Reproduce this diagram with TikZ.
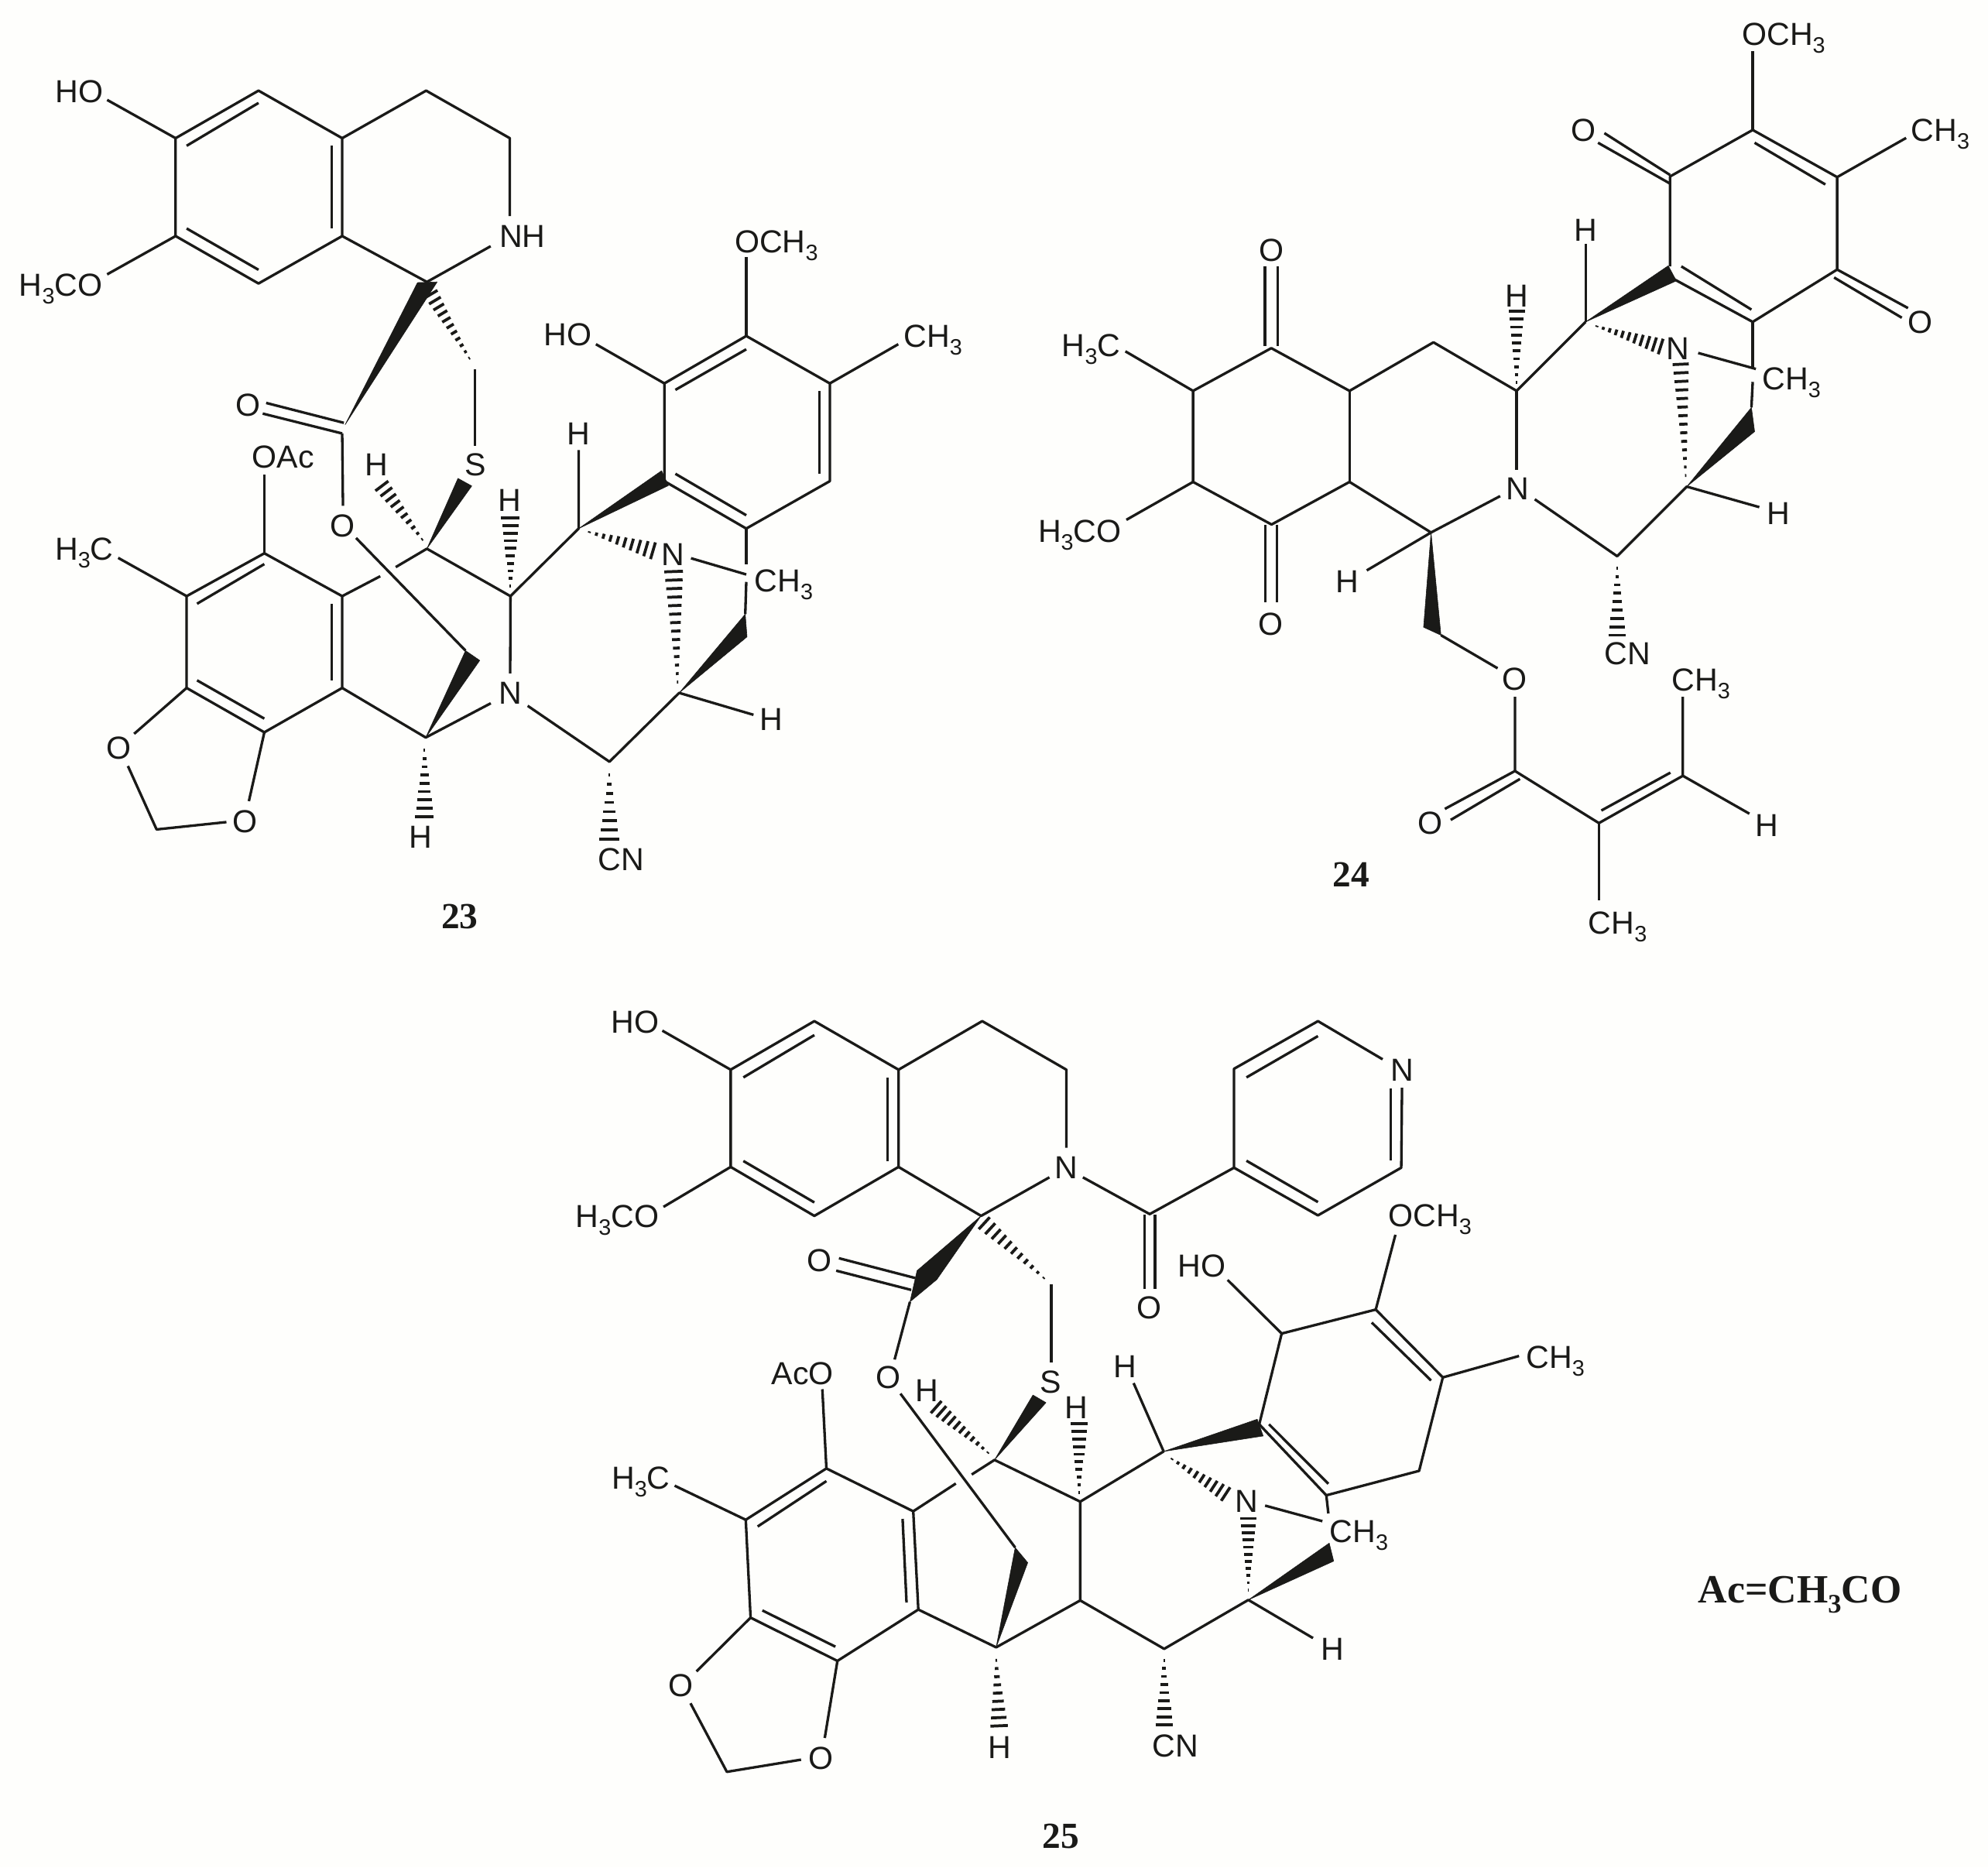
\documentclass[tikz,border=0pt]{standalone}
\usepackage{fontspec}
\setmainfont{Liberation Sans}
\newfontfamily\tagfont{Liberation Serif}
\usetikzlibrary{calc}
\definecolor{inkline}{HTML}{1A1A18}
\definecolor{paper}{HTML}{FEFEFC}
\newcommand{\subthree}{\raisebox{-0.24em}{\fontsize{10}{11}\selectfont 3}}
\newcommand{\subtag}{\raisebox{-0.24em}{\fontsize{12}{13}\selectfont 3}}
\tikzset{
    bond/.style={draw=inkline,line width=1.15pt,line join=round},
    wedgebond/.style={fill=inkline,draw=inkline,line width=0.2pt,line join=round},
    hashline/.style={draw=inkline,line width=1.3pt},
    atom/.style={inner sep=0pt,text=inkline,text height=10.2pt,text depth=0pt,font=\fontsize{14.3}{16}\selectfont},
    tag/.style={inner sep=0pt,text=inkline,text height=11pt,text depth=0pt,font=\tagfont\bfseries\fontsize{16.5}{19}\selectfont},
}
% narrow end, wide end, half width, number of gaps
\newcommand{\hashbond}[4]{
    \foreach \i in {0,...,#4}{
        \pgfmathsetmacro{\t}{(\i+0.3)/(#4+0.3)}
        \pgfmathsetmacro{\w}{(0.4+\t*#3)*0.5669}
        \draw[hashline] ($(#1)!\t!(#2)!\w pt!90:(#1)$) -- ($(#1)!\t!(#2)!\w pt!-90:(#1)$);
    }
}
\begin{document}
\begin{tikzpicture}[x=0.02cm,y=-0.02cm]
    \fill[paper] (0,0) rectangle (1568,1473);
    \useasboundingbox (0,0) rectangle (1568,1473);

    % compound 23
    \coordinate (a1) at (138.5,109);
    \coordinate (a2) at (203.9,71.5);
    \coordinate (a3) at (269.9,109);
    \coordinate (a4) at (269.9,186.2);
    \coordinate (a5) at (203.9,223.6);
    \coordinate (a6) at (138.5,186.2);
    \coordinate (a7) at (336.1,71.5);
    \coordinate (a8) at (402.1,109);
    \coordinate (a9) at (402.1,170.5);
    \coordinate (a10) at (336.7,222.4);
    \coordinate (a11) at (387,194.2);
    \coordinate (a12) at (84.5,78.8);
    \coordinate (a13) at (84.5,216.4);
    \coordinate (a14) at (147.2,115);
    \coordinate (a15) at (203.9,81.2);
    \coordinate (a16) at (261.7,115);
    \coordinate (a17) at (261.7,180.2);
    \coordinate (a18) at (147.2,180.2);
    \coordinate (a19) at (203.9,212.8);
    \coordinate (a20) at (329.3,222.9);
    \coordinate (a21) at (344.8,222.4);
    \coordinate (a22) at (272.2,335);
    \coordinate (a23) at (371,284);
    \coordinate (a24) at (340,232);
    \coordinate (a25) at (374.8,291.2);
    \coordinate (a26) at (374.8,351.6);
    \coordinate (a27) at (209.9,317.8);
    \coordinate (a28) at (271.2,333.5);
    \coordinate (a29) at (207.2,326.2);
    \coordinate (a30) at (269.9,341.9);
    \coordinate (a31) at (270.5,399);
    \coordinate (a32) at (208.5,374.5);
    \coordinate (a33) at (208.5,436.4);
    \coordinate (a34) at (147.2,470.2);
    \coordinate (a35) at (147.2,542.6);
    \coordinate (a36) at (208.5,577.6);
    \coordinate (a37) at (269.9,542.6);
    \coordinate (a38) at (269.9,470.2);
    \coordinate (a39) at (208.5,444.9);
    \coordinate (a40) at (155.4,476.2);
    \coordinate (a41) at (155.4,536.6);
    \coordinate (a42) at (208.5,566.8);
    \coordinate (a43) at (261.7,476.2);
    \coordinate (a44) at (261.7,536.6);
    \coordinate (a45) at (93.2,440);
    \coordinate (a46) at (105.8,578.8);
    \coordinate (a47) at (100.9,604.2);
    \coordinate (a48) at (123.5,654.2);
    \coordinate (a49) at (178.6,648.4);
    \coordinate (a50) at (196.3,631.9);
    \coordinate (a51) at (335.8,581.7);
    \coordinate (a52) at (334.8,589.7);
    \coordinate (a53) at (334.8,644);
    \coordinate (a54) at (367.2,513.2);
    \coordinate (a55) at (378.4,520.9);
    \coordinate (a56) at (280.8,424.3);
    \coordinate (a57) at (299.9,454.5);
    \coordinate (a58) at (312.1,447.3);
    \coordinate (a59) at (336.7,432.8);
    \coordinate (a60) at (402.6,470.2);
    \coordinate (a61) at (334,426.8);
    \coordinate (a62) at (301.2,383.3);
    \coordinate (a63) at (361.2,377.3);
    \coordinate (a64) at (372.1,383.3);
    \coordinate (a65) at (402.6,464);
    \coordinate (a66) at (402.6,408.6);
    \coordinate (a67) at (402.4,531.2);
    \coordinate (a68) at (387.1,554.7);
    \coordinate (a69) at (416.2,556.7);
    \coordinate (a70) at (480.7,600.8);
    \coordinate (a71) at (535.7,546.5);
    \coordinate (a72) at (594.3,563.8);
    \coordinate (a73) at (480.7,609);
    \coordinate (a74) at (480.7,661.9);
    \coordinate (a75) at (456.4,416.9);
    \coordinate (a76) at (456.4,355);
    \coordinate (a77) at (521.8,371.3);
    \coordinate (a78) at (527.2,383);
    \coordinate (a79) at (524,302.4);
    \coordinate (a80) at (588.6,265);
    \coordinate (a81) at (654.5,302.4);
    \coordinate (a82) at (654.5,379.5);
    \coordinate (a83) at (588.6,416.9);
    \coordinate (a84) at (524,379.5);
    \coordinate (a85) at (532.7,307.5);
    \coordinate (a86) at (588.6,275.5);
    \coordinate (a87) at (646.4,308.2);
    \coordinate (a88) at (646.4,373.7);
    \coordinate (a89) at (588.6,406.4);
    \coordinate (a90) at (532.7,373.7);
    \coordinate (a91) at (588.6,203);
    \coordinate (a92) at (470,271.5);
    \coordinate (a93) at (708.5,271.5);
    \coordinate (a94) at (588.6,445);
    \coordinate (a95) at (588.6,459);
    \coordinate (a97) at (587.8,484.4);
    \coordinate (a98) at (589.2,502.3);
    \coordinate (a99) at (463.2,419.2);
    \coordinate (a100) at (515,434.4);
    \coordinate (a101) at (545,440.3);
    \coordinate (a102) at (588.6,453.1);
    \coordinate (a103) at (534.5,540);
    \coordinate (a104) at (531.3,450.8);

    \node[atom] (aHO) at (62.7,72) {HO};
    \node[atom] (aOMe) at (48,224.8) {H\subthree CO};
    \node[atom] (aNH) at (412,186) {NH};
    \node[atom] (aOx) at (195.7,319) {O};
    \node[atom] (aOAc) at (223.3,360) {OAc};
    \node[atom] (aHa) at (297.1,366) {H};
    \node[atom] (aS) at (374.8,366) {S};
    \node[atom] (aOe) at (269.9,414.7) {O};
    \node[atom] (aMe) at (66.5,432.8) {H\subthree C};
    \node[atom] (aOl) at (94,589.7) {O};
    \node[atom] (aOr) at (193,647.6) {O};
    \node[atom] (aHb) at (332,659.7) {H};
    \node[atom] (aHc) at (402.1,394.2) {H};
    \node[atom] (aN) at (402.4,546.5) {N};
    \node[atom] (aCN) at (489.7,677.8) {CN};
    \node[atom] (aHd) at (608.6,566.9) {H};
    \node[atom] (aHe) at (456.4,342.1) {H};
    \node[atom] (aOMeb) at (612.4,190.2) {OCH\subthree};
    \node[atom] (aHOb) at (447.7,263.8) {HO};
    \node[atom] (aMeb) at (735.8,265) {CH\subthree};
    \node[atom] (aNb) at (530.8,436.8) {N};
    \node[atom] (aMec) at (618.2,457.8) {CH\subthree};
    \node[tag] (aTag) at (362.6,722.5) {23};

    \draw[bond] (a1)--(a2)--(a3)--(a4)--(a5)--(a6)--cycle;
    \draw[bond] (a14)--(a15);
    \draw[bond] (a16)--(a17);
    \draw[bond] (a18)--(a19);
    \draw[bond] (a3)--(a7)--(a8)--(a9);
    \draw[bond] (a4)--(a10)--(a11);
    \draw[bond] (a12)--(a1);
    \draw[bond] (a13)--(a6);
    \fill[wedgebond] (a20)--(a21)--(a22)--cycle;
    \hashbond{a23}{a24}{5.5}{10}
    \draw[bond] (a25)--(a26);
    \draw[bond] (a27)--(a28);
    \draw[bond] (a29)--(a30);
    \draw[bond] (a30)--(a31);
    \draw[bond] (a32)--(a33);
    \draw[bond] (a33)--(a34)--(a35)--(a36)--(a37)--(a38)--cycle;
    \draw[bond] (a39)--(a40);
    \draw[bond] (a41)--(a42);
    \draw[bond] (a43)--(a44);
    \draw[bond] (a45)--(a34);
    \draw[bond] (a35)--(a46);
    \draw[bond] (a47)--(a48)--(a49);
    \draw[bond] (a36)--(a50);
    \draw[bond] (a37)--(a51)--(a68);
    \hashbond{a52}{a53}{7}{8}
    \fill[wedgebond] (a51)--(a54)--(a55)--cycle;
    \draw[bond] (a56)--(a54);
    \draw[bond] (a38)--(a57);
    \draw[bond] (a58)--(a59)--(a60)--(a67);
    \hashbond{a61}{a62}{6}{9}
    \fill[wedgebond] (a59)--(a63)--(a64)--cycle;
    \hashbond{a65}{a66}{7}{9}
    \draw[bond] (a69)--(a70)--(a71)--(a72);
    \hashbond{a73}{a74}{7.5}{7}
    \draw[bond] (a60)--(a75)--(a76);
    \fill[wedgebond] (a75)--(a77)--(a78)--cycle;
    \draw[bond] (a79)--(a80)--(a81)--(a82)--(a83)--(a84)--cycle;
    \draw[bond] (a85)--(a86);
    \draw[bond] (a87)--(a88);
    \draw[bond] (a89)--(a90);
    \draw[bond] (a80)--(a91);
    \draw[bond] (a92)--(a79);
    \draw[bond] (a81)--(a93);
    \draw[bond] (a83)--(a94);
    \draw[bond] (a95)--(a97);
    \fill[wedgebond] (a71)--(a97)--(a98)--cycle;
    \hashbond{a99}{a100}{6.5}{9}
    \draw[bond] (a101)--(a102);
    \hashbond{a103}{a104}{7}{13}

    % compound 24
    \coordinate (b1) at (1382.4,102.5);
    \coordinate (b2) at (1449,139.7);
    \coordinate (b3) at (1449,212.6);
    \coordinate (b4) at (1382.4,253.9);
    \coordinate (b5) at (1317.2,210.1);
    \coordinate (b6) at (1317.2,139.2);
    \coordinate (b7) at (1383.9,112.6);
    \coordinate (b8) at (1439.7,145.5);
    \coordinate (b9) at (1381.4,244.2);
    \coordinate (b10) at (1326.1,210.1);
    \coordinate (b11) at (1320,220);
    \coordinate (b12) at (1382.4,40.5);
    \coordinate (b13) at (1317.2,138);
    \coordinate (b14) at (1265.4,105);
    \coordinate (b15) at (1317.2,144.8);
    \coordinate (b16) at (1260.4,112.6);
    \coordinate (b17) at (1503.4,108.8);
    \coordinate (b19) at (1504.9,243);
    \coordinate (b20) at (1446.6,218.9);
    \coordinate (b21) at (1500,250.6);
    \coordinate (b22) at (1250.6,253.9);
    \coordinate (b23) at (1315.8,209.6);
    \coordinate (b24) at (1322.2,221.5);
    \coordinate (b25) at (1250.6,192.4);
    \coordinate (b26) at (1196.2,308.3);
    \coordinate (b27) at (1196.2,303.7);
    \coordinate (b28) at (1196.2,245.5);
    \coordinate (b29) at (1130.6,270);
    \coordinate (b30) at (1064.4,308.3);
    \coordinate (b31) at (1002.7,274.6);
    \coordinate (b32) at (941,308.3);
    \coordinate (b33) at (997.7,273);
    \coordinate (b34) at (997.7,210);
    \coordinate (b35) at (1007.6,273);
    \coordinate (b36) at (1007.6,210);
    \coordinate (b37) at (887.6,277.1);
    \coordinate (b38) at (1196.2,370.8);
    \coordinate (b39) at (941,380.1);
    \coordinate (b40) at (1002.9,413.7);
    \coordinate (b41) at (1064.4,380.1);
    \coordinate (b42) at (1128.7,420);
    \coordinate (b43) at (1183.2,391.3);
    \coordinate (b44) at (1210.5,393.8);
    \coordinate (b45) at (1275.5,438.7);
    \coordinate (b46) at (1330.4,383.8);
    \coordinate (b47) at (1387.6,400);
    \coordinate (b48) at (888.4,410);
    \coordinate (b49) at (998.2,413.7);
    \coordinate (b50) at (998.2,474.8);
    \coordinate (b51) at (1007.2,413.7);
    \coordinate (b52) at (1007.2,474.8);
    \coordinate (b53) at (1078,449.9);
    \coordinate (b54) at (1122.8,494.7);
    \coordinate (b55) at (1136.5,501);
    \coordinate (b56) at (1181.2,527.1);
    \coordinate (b57) at (1194.9,549.6);
    \coordinate (b58) at (1194.9,608.1);
    \coordinate (b59) at (1139.6,638);
    \coordinate (b60) at (1198.8,614.4);
    \coordinate (b61) at (1144.2,646.7);
    \coordinate (b62) at (1261.1,649.2);
    \coordinate (b63) at (1327.3,611.9);
    \coordinate (b64) at (1263,639.3);
    \coordinate (b65) at (1317.5,609.4);
    \coordinate (b66) at (1327.3,549.6);
    \coordinate (b67) at (1379.8,641.8);
    \coordinate (b68) at (1261.1,710.3);
    \coordinate (b69) at (1275.5,446.1);
    \coordinate (b70) at (1275.5,501);
    \coordinate (b71) at (1258,256.9);
    \coordinate (b72) at (1309.8,273.3);
    \coordinate (b73) at (1339.4,278.4);
    \coordinate (b74) at (1384.9,291);
    \coordinate (b75) at (1382.4,289.8);
    \coordinate (b76) at (1382.4,301.2);
    \coordinate (b78) at (1381.4,321.4);
    \coordinate (b79) at (1383.9,340.4);
    \coordinate (b80) at (1325.6,287.3);
    \coordinate (b81) at (1329.6,377.1);

    \node[atom] (bOMe) at (1406.8,26.6) {OCH\subthree};
    \node[atom] (bOa) at (1249,102.5) {O};
    \node[atom] (bMe) at (1530.3,102.5) {CH\subthree};
    \node[atom] (bOb) at (1514.7,253.9) {O};
    \node[atom] (bHa) at (1250.6,181) {H};
    \node[atom] (bHb) at (1196.2,232.9) {H};
    \node[atom] (bOc) at (1002.7,197.4) {O};
    \node[atom] (bMeb) at (860.7,272) {H\subthree C};
    \node[atom] (bN) at (1196.8,385) {N};
    \node[atom] (bNb) at (1323.1,274.6) {N};
    \node[atom] (bMec) at (1413,298.7) {CH\subthree};
    \node[atom] (bHc) at (1403,405) {H};
    \node[atom] (bOMeb) at (851.6,418.7) {H\subthree CO};
    \node[atom] (bOd) at (1002.1,492.2) {O};
    \node[atom] (bHd) at (1062.5,458.6) {H};
    \node[atom] (bCN) at (1283.7,515.2) {CN};
    \node[atom] (bOe) at (1194.9,535.1) {O};
    \node[atom] (bMed) at (1341.5,535.9) {CH\subthree};
    \node[atom] (bOf) at (1127.9,649.2) {O};
    \node[atom] (bHe) at (1393.5,650.5) {H};
    \node[atom] (bMee) at (1275.9,727.7) {CH\subthree};
    \node[tag] (bTag) at (1065.6,689.9) {24};

    \draw[bond] (b4)--(b3)--(b2)--(b1)--(b6)--(b5);
    \draw[bond] (b4)--(b11);
    \draw[bond] (b7)--(b8);
    \draw[bond] (b9)--(b10);
    \draw[bond] (b1)--(b12);
    \draw[bond] (b13)--(b14);
    \draw[bond] (b15)--(b16);
    \draw[bond] (b2)--(b17);
    \draw[bond] (b3)--(b19);
    \draw[bond] (b20)--(b21);
    \fill[wedgebond] (b22)--(b23)--(b24)--cycle;
    \draw[bond] (b22)--(b25);
    \draw[bond] (b22)--(b26)--(b29)--(b30)--(b31)--(b32);
    \hashbond{b27}{b28}{6}{9}
    \draw[bond] (b33)--(b34);
    \draw[bond] (b35)--(b36);
    \draw[bond] (b37)--(b32)--(b39)--(b40)--(b41)--(b42)--(b43);
    \draw[bond] (b26)--(b38);
    \draw[bond] (b30)--(b41);
    \draw[bond] (b44)--(b45)--(b46)--(b47);
    \draw[bond] (b48)--(b39);
    \draw[bond] (b49)--(b50);
    \draw[bond] (b51)--(b52);
    \draw[bond] (b42)--(b53);
    \fill[wedgebond] (b42)--(b54)--(b55)--cycle;
    \draw[bond] (b55)--(b56);
    \draw[bond] (b57)--(b58)--(b59);
    \draw[bond] (b60)--(b61);
    \draw[bond] (b58)--(b62)--(b63)--(b66);
    \draw[bond] (b64)--(b65);
    \draw[bond] (b63)--(b67);
    \draw[bond] (b62)--(b68);
    \hashbond{b69}{b70}{6.5}{8}
    \hashbond{b71}{b72}{6}{10}
    \draw[bond] (b73)--(b74);
    \draw[bond] (b4)--(b75);
    \draw[bond] (b76)--(b78);
    \fill[wedgebond] (b46)--(b78)--(b79)--cycle;
    \hashbond{b81}{b80}{6}{13}

    % compound 25
    \coordinate (c1) at (576.3,843.7);
    \coordinate (c2) at (642.3,805.4);
    \coordinate (c3) at (708.7,843.7);
    \coordinate (c4) at (708.7,920.4);
    \coordinate (c5) at (642.3,959);
    \coordinate (c6) at (576.3,920.4);
    \coordinate (c7) at (586.3,849.8);
    \coordinate (c8) at (642.3,816.4);
    \coordinate (c9) at (700,849.8);
    \coordinate (c10) at (700,915.7);
    \coordinate (c11) at (642.3,948.4);
    \coordinate (c12) at (586.3,915.7);
    \coordinate (c13) at (522.4,812.9);
    \coordinate (c14) at (523.3,951.9);
    \coordinate (c15) at (774.7,805.4);
    \coordinate (c16) at (841.1,843.7);
    \coordinate (c17) at (841.1,905.2);
    \coordinate (c18) at (827.7,928.6);
    \coordinate (c19) at (773.8,959);
    \coordinate (c20) at (854.1,928.6);
    \coordinate (c21) at (906.8,957.6);
    \coordinate (c22) at (902.7,958.1);
    \coordinate (c23) at (902.7,1016.5);
    \coordinate (c24) at (911,958.1);
    \coordinate (c25) at (911,1016.5);
    \coordinate (c26) at (973.3,921);
    \coordinate (c27) at (973.3,843);
    \coordinate (c28) at (1039.5,805.4);
    \coordinate (c29) at (1090.5,835.5);
    \coordinate (c30) at (1105.8,857.9);
    \coordinate (c31) at (1105.2,921);
    \coordinate (c32) at (1039.5,958.6);
    \coordinate (c33) at (983.1,849.8);
    \coordinate (c34) at (1039.5,817.2);
    \coordinate (c35) at (983.1,915.5);
    \coordinate (c36) at (1039.5,948.1);
    \coordinate (c37) at (1097,858.5);
    \coordinate (c38) at (1097,915.5);
    \coordinate (c39) at (723.3,1002.2);
    \coordinate (c40) at (717.7,1026.8);
    \coordinate (c41) at (738.9,1009.2);
    \coordinate (c42) at (661.7,992.4);
    \coordinate (c43) at (721.8,1008);
    \coordinate (c44) at (659.5,1002.2);
    \coordinate (c45) at (718.7,1017.4);
    \coordinate (c46) at (705.6,1072.3);
    \coordinate (c47) at (824.6,1009.2);
    \coordinate (c48) at (776.3,964.8);
    \coordinate (c49) at (829.2,1012.7);
    \coordinate (c50) at (829.2,1074.6);
    \coordinate (c51) at (648.6,1095.7);
    \coordinate (c52) at (651.8,1158.2);
    \coordinate (c53) at (588.2,1198.7);
    \coordinate (c54) at (592,1275.9);
    \coordinate (c55) at (660.5,1310);
    \coordinate (c56) at (724.3,1269.5);
    \coordinate (c57) at (720.3,1192);
    \coordinate (c58) at (651.8,1168.2);
    \coordinate (c59) at (597.6,1204);
    \coordinate (c60) at (601.3,1270.2);
    \coordinate (c61) at (658.9,1298.8);
    \coordinate (c62) at (715,1264);
    \coordinate (c63) at (711.9,1198);
    \coordinate (c64) at (532.1,1171.8);
    \coordinate (c65) at (549.3,1318.3);
    \coordinate (c66) at (544.6,1343.4);
    \coordinate (c67) at (573.3,1397.5);
    \coordinate (c68) at (631.8,1387.9);
    \coordinate (c69) at (650.5,1370.8);
    \coordinate (c70) at (785.7,1299.3);
    \coordinate (c71) at (785.7,1307.6);
    \coordinate (c72) at (788,1361.2);
    \coordinate (c73) at (800.7,1220.6);
    \coordinate (c74) at (810.6,1232.5);
    \coordinate (c75) at (710.2,1099.2);
    \coordinate (c76) at (753.9,1170.1);
    \coordinate (c77) at (766.4,1163);
    \coordinate (c78) at (784.4,1151.5);
    \coordinate (c79) at (852,1184.4);
    \coordinate (c80) at (852,1262.3);
    \coordinate (c81) at (918.2,1300.5);
    \coordinate (c82) at (918.2,1307.6);
    \coordinate (c83) at (918.2,1360.5);
    \coordinate (c84) at (984.6,1261.9);
    \coordinate (c85) at (1035.6,1292);
    \coordinate (c86) at (1048.4,1217.1);
    \coordinate (c87) at (1051.9,1231.3);
    \coordinate (c88) at (814.7,1100.3);
    \coordinate (c89) at (825,1106.3);
    \coordinate (c90) at (780.4,1146.8);
    \coordinate (c91) at (738.4,1109.8);
    \coordinate (c92) at (851.1,1178.9);
    \coordinate (c93) at (851.1,1122.9);
    \coordinate (c94) at (917.8,1144.8);
    \coordinate (c95) at (894.1,1090.9);
    \coordinate (c96) at (991.6,1119.4);
    \coordinate (c97) at (996.3,1132.6);
    \coordinate (c98) at (1010.9,1051.8);
    \coordinate (c99) at (1085.1,1032.9);
    \coordinate (c100) at (1138,1086.4);
    \coordinate (c101) at (1119.3,1160.1);
    \coordinate (c102) at (1046.1,1179.4);
    \coordinate (c103) at (993.2,1123.4);
    \coordinate (c104) at (1081.9,1043.1);
    \coordinate (c105) at (1128.7,1088.8);
    \coordinate (c106) at (1047.7,1170.3);
    \coordinate (c107) at (1000.9,1123.4);
    \coordinate (c108) at (968.2,1009.5);
    \coordinate (c109) at (1100.6,973.9);
    \coordinate (c110) at (1198.1,1069.5);
    \coordinate (c111) at (923,1149.9);
    \coordinate (c112) at (966.7,1178.4);
    \coordinate (c113) at (997.8,1187.5);
    \coordinate (c114) at (1043,1199.8);
    \coordinate (c115) at (1047.7,1193.7);
    \coordinate (c116) at (984.6,1255.7);
    \coordinate (c117) at (984.6,1197.7);

    \node[atom] (cHO) at (501,805.9) {HO};
    \node[atom] (cOMe) at (486.9,959) {H\subthree CO};
    \node[atom] (cN) at (841.1,920.4) {N};
    \node[atom] (cNp) at (1105.8,843.7) {N};
    \node[atom] (cOa) at (906.6,1031.1) {O};
    \node[atom] (cOb) at (646.4,994) {O};
    \node[atom] (cOe) at (700.9,1086.3) {O};
    \node[atom] (cAcO) at (633,1082.8) {AcO};
    \node[atom] (cS) at (828.6,1089.8) {S};
    \node[atom] (cHa) at (731.1,1096.8) {H};
    \node[atom] (cHb) at (849,1109.8) {H};
    \node[atom] (cHc) at (887.3,1077.7) {H};
    \node[atom] (cHOb) at (948,998.3) {HO};
    \node[atom] (cOMeb) at (1127.9,958.6) {OCH\subthree};
    \node[atom] (cMe) at (1226.8,1070.5) {CH\subthree};
    \node[atom] (cMeb) at (505.5,1165.8) {H\subthree C};
    \node[atom] (cNb) at (983.5,1184) {N};
    \node[atom] (cMec) at (1071.8,1207.9) {CH\subthree};
    \node[atom] (cOl) at (536.8,1329.1) {O};
    \node[atom] (cOr) at (647.4,1386.3) {O};
    \node[atom] (cHd) at (788.2,1377.9) {H};
    \node[atom] (cCN) at (927,1377) {CN};
    \node[atom] (cHe) at (1051,1300.5) {H};
    \node[tag] (cTag) at (836.5,1448.2) {25};
    \node[tag,font=\tagfont\bfseries\fontsize{18}{20}\selectfont] (cAc) at (1419.7,1254.7) {Ac=CH\subtag CO};

    \draw[bond] (c1)--(c2)--(c3)--(c4)--(c5)--(c6)--cycle;
    \draw[bond] (c7)--(c8);
    \draw[bond] (c9)--(c10);
    \draw[bond] (c11)--(c12);
    \draw[bond] (c13)--(c1);
    \draw[bond] (c14)--(c6);
    \draw[bond] (c3)--(c15)--(c16)--(c17);
    \draw[bond] (c18)--(c19)--(c4);
    \draw[bond] (c20)--(c21)--(c26)--(c27)--(c28)--(c29);
    \draw[bond] (c22)--(c23);
    \draw[bond] (c24)--(c25);
    \draw[bond] (c30)--(c31)--(c32)--(c26);
    \draw[bond] (c33)--(c34);
    \draw[bond] (c35)--(c36);
    \draw[bond] (c37)--(c38);
    \fill[wedgebond] (c19)--(c39)--(c40)--(c41)--cycle;
    \draw[bond] (c42)--(c43);
    \draw[bond] (c44)--(c45);
    \draw[bond] (c40)--(c46);
    \hashbond{c47}{c48}{6}{10}
    \draw[bond] (c49)--(c50);
    \draw[bond] (c51)--(c52);
    \draw[bond] (c52)--(c53)--(c54)--(c55)--(c56)--(c57)--cycle;
    \draw[bond] (c58)--(c59);
    \draw[bond] (c60)--(c61);
    \draw[bond] (c62)--(c63);
    \draw[bond] (c64)--(c53);
    \draw[bond] (c54)--(c65);
    \draw[bond] (c66)--(c67)--(c68);
    \draw[bond] (c55)--(c69);
    \draw[bond] (c56)--(c70)--(c80)--(c79)--(c78)--(c77);
    \hashbond{c71}{c72}{6.5}{8}
    \fill[wedgebond] (c70)--(c73)--(c74)--cycle;
    \draw[bond] (c75)--(c73);
    \draw[bond] (c57)--(c76);
    \draw[bond] (c80)--(c81)--(c84)--(c85);
    \hashbond{c82}{c83}{6.5}{8}
    \fill[wedgebond] (c84)--(c86)--(c87)--cycle;
    \fill[wedgebond] (c78)--(c88)--(c89)--cycle;
    \hashbond{c90}{c91}{6}{10}
    \hashbond{c92}{c93}{6.5}{9}
    \draw[bond] (c79)--(c94)--(c95);
    \fill[wedgebond] (c94)--(c96)--(c97)--cycle;
    \draw[bond] (c98)--(c99)--(c100)--(c101)--(c102)--(c103)--cycle;
    \draw[bond] (c104)--(c105);
    \draw[bond] (c106)--(c107);
    \draw[bond] (c108)--(c98);
    \draw[bond] (c109)--(c99);
    \draw[bond] (c110)--(c100);
    \hashbond{c111}{c112}{6}{9}
    \draw[bond] (c113)--(c114);
    \draw[bond] (c102)--(c115);
    \hashbond{c116}{c117}{6}{10}
\end{tikzpicture}
\end{document}
